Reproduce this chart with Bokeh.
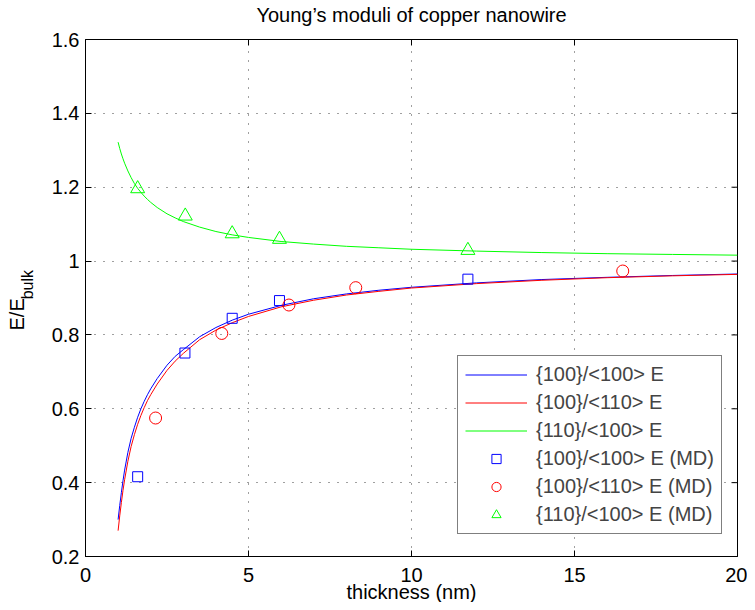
from bokeh.plotting import figure
from bokeh.models import FixedTicker, CustomJSTickFormatter, LinearAxis, Title
from bokeh.embed import file_html
from bokeh.resources import INLINE

title_text = "Young\u2019s moduli of copper nanowire"
x_label = "thickness (nm)"
y_label_main = "E/E"
y_label_sub = "bulk"

x_ticks = [0, 5, 10, 15, 20]
y_ticks = [0.2, 0.4, 0.6, 0.8, 1.0, 1.2, 1.4, 1.6]

# model curves
t_fit = [1.0, 1.05, 1.1, 1.15, 1.2, 1.3, 1.4, 1.5, 1.6, 1.7, 1.8, 1.9, 2.0, 2.2,
         2.5, 2.75, 3.0, 3.5, 4.0, 4.5, 5.0, 6.0, 7.0, 8.0, 9.0, 10.0, 12.0, 14.0,
         16.0, 18.0, 20.0]
e_100_100 = [0.300, 0.338, 0.373, 0.405, 0.434, 0.482, 0.520, 0.550, 0.577, 0.600,
             0.620, 0.638, 0.654, 0.682, 0.718, 0.742, 0.760, 0.795, 0.820, 0.840,
             0.856, 0.880, 0.898, 0.911, 0.921, 0.929, 0.941, 0.950, 0.956, 0.961,
             0.965]
e_100_110 = [0.270, 0.310, 0.346, 0.379, 0.408, 0.458, 0.498, 0.530, 0.558, 0.582,
             0.603, 0.622, 0.638, 0.667, 0.704, 0.729, 0.750, 0.787, 0.813, 0.833,
             0.850, 0.876, 0.894, 0.908, 0.918, 0.927, 0.939, 0.948, 0.955, 0.960,
             0.964]
e_110_100 = [1.322, 1.305, 1.290, 1.277, 1.265, 1.244, 1.226, 1.210, 1.197, 1.186,
             1.176, 1.167, 1.159, 1.145, 1.128, 1.117, 1.107, 1.092, 1.080, 1.071,
             1.064, 1.053, 1.046, 1.040, 1.036, 1.032, 1.027, 1.023, 1.020, 1.018,
             1.016]

# MD points
md_100_100_t = [1.60, 3.05, 4.50, 5.95, 11.73]
md_100_100_e = [0.416, 0.751, 0.845, 0.893, 0.951]
md_100_110_t = [2.15, 4.18, 6.24, 8.29, 16.48]
md_100_110_e = [0.575, 0.804, 0.881, 0.928, 0.973]
md_110_100_t = [1.60, 3.06, 4.50, 5.95, 11.73]
md_110_100_e = [1.196, 1.122, 1.074, 1.059, 1.029]

FONT = "Liberation Sans"
FS = "20px"

W, H = 747, 602
BL, BR, BT, BB = 85, 10, 38, 46
X0, X1 = 0, 20
Y0, Y1 = 0.2, 1.6
TICK = 6

p = figure(width=W, height=H, x_range=(X0, X1), y_range=(Y0, Y1), title=None,
           output_backend="svg", toolbar_location=None,
           min_border_left=BL, min_border_right=BR, min_border_top=BT,
           min_border_bottom=BB)

p.outline_line_color = "black"
p.outline_line_width = 1
p.outline_line_alpha = 1.0
p.background_fill_color = "white"
p.border_fill_color = "white"

fmt = CustomJSTickFormatter(code="return String(tick);")

xax = p.below[0]
yax = p.left[0]

xax.ticker = FixedTicker(ticks=x_ticks)
xax.major_label_text_font = FONT
xax.major_label_text_font_size = FS
xax.major_label_standoff = 11

yax.ticker = FixedTicker(ticks=y_ticks)
yax.formatter = fmt
yax.major_label_text_font = FONT
yax.major_label_text_font_size = FS
yax.major_label_standoff = 6
# subscript part of the y label sits next to the tick labels
yax.axis_label = "\u00a0" * 6 + y_label_sub
yax.axis_label_text_font = FONT
yax.axis_label_text_font_size = "16px"
yax.axis_label_text_font_style = "normal"
yax.axis_label_text_color = "black"
yax.axis_label_standoff = 13

for ax in (xax, yax):
    ax.major_tick_in = TICK
    ax.major_tick_out = 0
    ax.minor_tick_in = 0
    ax.minor_tick_out = 0
    ax.axis_line_color = "black"
    ax.major_tick_line_color = "black"
    ax.major_label_text_color = "black"

# chart title, drawn as the label of a tick-less axis above the frame
top_ax = LinearAxis(ticker=FixedTicker(ticks=[-100.0]), major_tick_out=0, major_tick_in=0,
                    minor_tick_in=0, minor_tick_out=0, major_label_standoff=0,
                    axis_line_color=None, major_tick_line_color=None,
                    minor_tick_line_color=None,
                    axis_label=title_text, axis_label_standoff=14,
                    axis_label_text_font=FONT, axis_label_text_font_size=FS,
                    axis_label_text_font_style="normal", axis_label_text_color="black")
p.add_layout(top_ax, "above")

# main part of the y label
p.add_layout(Title(text=y_label_main, align="left", offset=226, vertical_align="bottom",
                   standoff=-24, text_font=FONT, text_font_size=FS,
                   text_font_style="normal", text_color="black"), "left")
# x label
p.add_layout(Title(text=x_label, align="center", vertical_align="top", standoff=-8,
                   text_font=FONT, text_font_size=FS, text_font_style="normal",
                   text_color="black"), "below")

for g in (p.xgrid, p.ygrid):
    g.grid_line_color = "black"
    g.grid_line_alpha = 0.75
    g.grid_line_dash = "1 8"
    g.grid_line_width = 1

# inward ticks on the right and top edges of the box
dx = TICK * (X1 - X0) / (W - BL - BR)
dy = TICK * (Y1 - Y0) / (H - BT - BB)
p.segment(x0=[X1] * len(y_ticks), y0=y_ticks, x1=[X1 - dx] * len(y_ticks), y1=y_ticks,
          line_color="black", line_width=1)
p.segment(x0=x_ticks, y0=[Y1] * len(x_ticks), x1=x_ticks, y1=[Y1 - dy] * len(x_ticks),
          line_color="black", line_width=1)

p.line(t_fit, e_100_100, color="#0000FF", line_width=1, legend_label="{100}/<100> E")
p.line(t_fit, e_100_110, color="#FF0000", line_width=1, legend_label="{100}/<110> E")
p.line(t_fit, e_110_100, color="#00FF00", line_width=1, legend_label="{110}/<100> E")
p.scatter(md_100_100_t, md_100_100_e, marker="square", size=10, fill_color=None,
          line_color="#0000FF", line_width=1, legend_label="{100}/<100> E (MD)")
p.scatter(md_100_110_t, md_100_110_e, marker="circle", size=12, fill_color=None,
          line_color="#FF0000", line_width=1, legend_label="{100}/<110> E (MD)")
p.scatter(md_110_100_t, md_110_100_e, marker="triangle", size=14, fill_color=None,
          line_color="#00FF00", line_width=1, legend_label="{110}/<100> E (MD)")

lg = p.legend[0]
lg.location = (372, 22)
lg.margin = 0
lg.padding = 7
lg.spacing = 5
lg.glyph_width = 62
lg.glyph_height = 23
lg.label_height = 23
lg.label_standoff = 9
lg.label_text_font = FONT
lg.label_text_font_size = FS
lg.border_line_color = "black"
lg.border_line_width = 1
lg.background_fill_alpha = 1.0

open("out.html", "w").write(file_html(p, INLINE))
